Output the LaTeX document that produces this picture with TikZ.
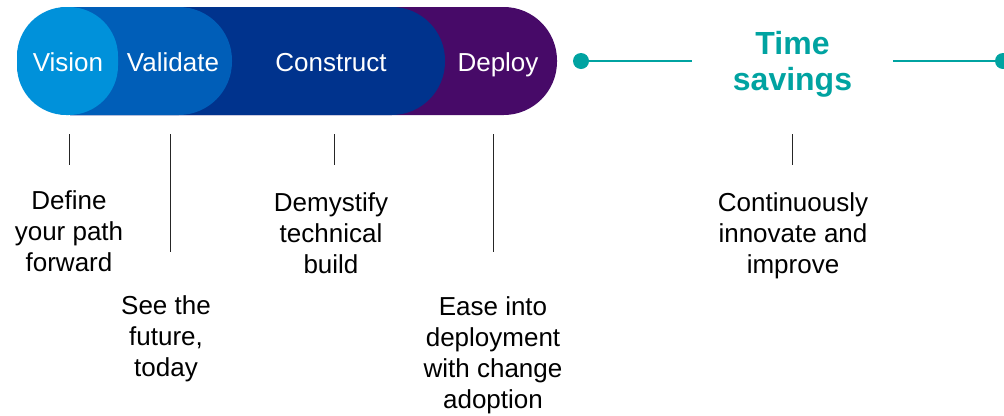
\documentclass[tikz,border=0pt]{standalone}
\usepackage{fontspec}
\setmainfont{Liberation Sans}
\usepackage{xcolor}
\usepackage{tikz}

\definecolor{visionblue}{HTML}{0091DA}
\definecolor{validateblue}{HTML}{005EB8}
\definecolor{constructblue}{HTML}{00338D}
\definecolor{deployviolet}{HTML}{470A68}
\definecolor{timeteal}{HTML}{00A3A1}

\begin{document}
\begin{tikzpicture}[x=0.75pt,y=-0.75pt,
    phase/.style={text=white,anchor=base,inner sep=0pt,font=\fontsize{19.5}{23}\selectfont},
    note/.style={anchor=north,inner sep=0pt,align=center,font=\fontsize{19.5}{23.4}\selectfont},
    tick/.style={black!85,line width=0.75pt},
    dot/.style={circle,fill=timeteal,inner sep=0pt,minimum size=12pt},
    link/.style={timeteal,line width=1.6pt}]
      \useasboundingbox (0,0) rectangle (1004,415);
      % pills, back to front
      \fill[deployviolet,rounded corners=40pt] (17,7) rectangle (557,115);
      \fill[constructblue,rounded corners=40pt] (17,7) rectangle (445,115);
      \fill[validateblue,rounded corners=40pt] (17,7) rectangle (232,115);
      \fill[visionblue,rounded corners=37pt] (17,7) rectangle (118,115);
      \node[phase] (vision) at (68,71) {Vision};
      \node[phase] (validate) at (173,71) {Validate};
      \node[phase] (construct) at (331,71) {Construct};
      \node[phase] (deploy) at (498,71) {Deploy};
      % time savings
      \node[dot] (ldot) at (581,61) {};
      \node[dot] (rdot) at (1003,61) {};
      \node[inner sep=0pt,minimum width=150.75pt,align=center,text=timeteal,
        font=\bfseries\fontsize{24}{27}\selectfont] (time) at (792.5,64) {Time\\savings};
      \draw[link] (ldot) -- (ldot -| time.west);
      \draw[link] (time.east |- rdot) -- (rdot);
      % ticks
      \foreach \x/\l in {69/31,170/118,334/31,493/118,792/31}
        \draw[tick] (\x,134) -- ++(0,\l);
      \node[note] (define) at (69,190) {Define\\your path\\forward};
      \node[note] (see) at (166,295) {See the\\future,\\today};
      \node[note] (demystify) at (331,192) {Demystify\\technical\\build};
      \node[note] (ease) at (493,296) {Ease into\\deployment\\with change\\adoption};
      \node[note] (innovate) at (793,192) {Continuously\\innovate and\\improve};
    \end{tikzpicture}
\end{document}
